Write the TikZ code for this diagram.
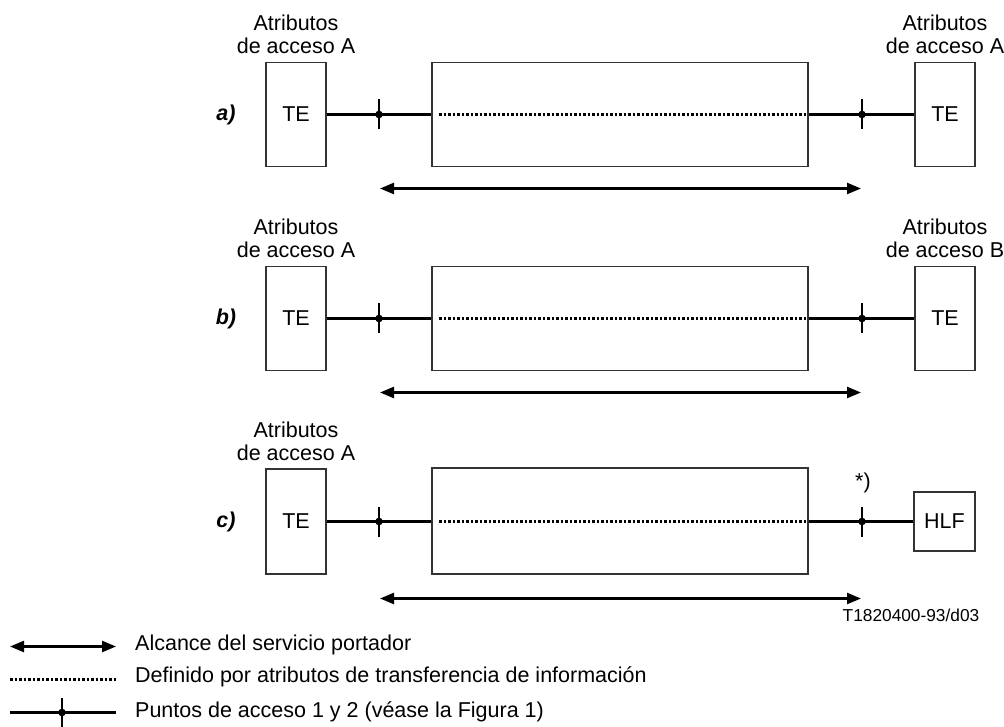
\documentclass[tikz,border=0pt]{standalone}
\usepackage{fontspec}
\setmainfont{Liberation Sans}
\usetikzlibrary{arrows.meta}
\begin{document}
\begin{tikzpicture}[x=1pt,y=-1pt,
  box/.style={draw=black!80,line width=1.2pt,inner sep=0pt,font=\fontsize{21.5}{23}\selectfont},
  conn/.style={line width=2.4pt},
  tickmark/.style={line width=2.4pt},
  span/.style={line width=2.4pt,{Triangle[length=14pt,width=11pt]}-{Triangle[length=14pt,width=11pt]}},
  dots/.style={line width=2.8pt,dash pattern=on 2.8pt off 1.7pt},
  lbl/.style={font=\fontsize{21.5}{23}\selectfont,align=center,inner sep=0pt},
  rowlbl/.style={font=\fontsize{21.5}{23}\selectfont\bfseries\itshape,inner sep=0pt}
]
\useasboundingbox (0,0) rectangle (1004,727);

% rows a and b
\foreach \r/\y/\rr in {a/114.5/A, b/318.5/B}{
  \node[box,minimum width=60,minimum height=104] (teL-\r) at (296,\y) {TE};
  \node[box,minimum width=376,minimum height=104] (mid-\r) at (620,\y) {};
  \node[box,minimum width=60,minimum height=104] (teR-\r) at (945,\y) {TE};
  \node[rowlbl] (rl-\r) at (226,\y) {\r)};
  \node[lbl] (la1-\r) at (296,\y-92) {Atributos};
  \node[lbl] (la2-\r) at (296,\y-69) {de acceso A};
  \node[lbl] (ra1-\r) at (945,\y-92) {Atributos};
  \node[lbl] (ra2-\r) at (945,\y-69) {de acceso \rr};
  \draw[conn] (teL-\r.east) -- (mid-\r.west);
  \draw[conn] (mid-\r.east) -- (teR-\r.west);
  \coordinate (pL-\r) at (379,\y);
  \coordinate (pR-\r) at (862,\y);
  \draw[tickmark] ([yshift=15pt]pL-\r) -- ([yshift=-15pt]pL-\r);
  \draw[tickmark] ([yshift=15pt]pR-\r) -- ([yshift=-15pt]pR-\r);
  \fill (pL-\r) circle (3.8);
  \fill (pR-\r) circle (3.8);
  \coordinate (d1-\r) at (439,\y);
  \coordinate (d2-\r) at (806,\y);
  \draw[dots] (d1-\r) -- (d2-\r);
  \coordinate (s1-\r) at (380,\y+74);
  \coordinate (s2-\r) at (861,\y+74);
  \draw[span] (s1-\r) -- (s2-\r);
}

% row c
\node[box,minimum width=60,minimum height=105] (teL-c) at (296,521.5) {TE};
\node[box,minimum width=376,minimum height=106] (mid-c) at (620,521) {};
\node[box,minimum width=61,minimum height=59] (hlf) at (944.5,521.5) {HLF};
\node[rowlbl] (rl-c) at (226,521.5) {c)};
\node[lbl] (la1-c) at (296,430) {Atributos};
\node[lbl] (la2-c) at (296,453) {de acceso A};
\node[lbl] (star) at (863,483) {*)};
\draw[conn] (teL-c.east) -- (mid-c.west |- teL-c.east);
\draw[conn] (mid-c.east |- hlf.west) -- (hlf.west);
\coordinate (pL-c) at (379,521.5);
\coordinate (pR-c) at (862,521.5);
\draw[tickmark] ([yshift=15pt]pL-c) -- ([yshift=-15pt]pL-c);
\draw[tickmark] ([yshift=15pt]pR-c) -- ([yshift=-15pt]pR-c);
\fill (pL-c) circle (3.8);
\fill (pR-c) circle (3.8);
\coordinate (d1-c) at (439,521.5);
\coordinate (d2-c) at (806,521.5);
\draw[dots] (d1-c) -- (d2-c);
\coordinate (s1-c) at (380,598.5);
\coordinate (s2-c) at (861,598.5);
\draw[span] (s1-c) -- (s2-c);
\node[font=\fontsize{17.3}{20}\selectfont,inner sep=0pt] (ref) at (911,615) {T1820400-93/d03};

% legend
\coordinate (g1a) at (10,646.5);
\coordinate (g1b) at (116,646.5);
\draw[span] (g1a) -- (g1b);
\node[lbl,anchor=west] (g1t) at (135,645) {Alcance del servicio portador};
\coordinate (g2a) at (10,679.5);
\coordinate (g2b) at (116,679.5);
\draw[dots] (g2a) -- (g2b);
\node[lbl,anchor=west] (g2t) at (135,677) {Definido por atributos de transferencia de información};
\coordinate (g3a) at (10,712.5);
\coordinate (g3b) at (116,712.5);
\coordinate (g3p) at (62,712.5);
\draw[conn] (g3a) -- (g3b);
\draw[tickmark] (62,698) -- (62,727);
\fill (g3p) circle (3.8);
\node[lbl,anchor=west] (g3t) at (135,712) {Puntos de acceso 1 y 2 (véase la Figura 1)};
\end{tikzpicture}
\end{document}
